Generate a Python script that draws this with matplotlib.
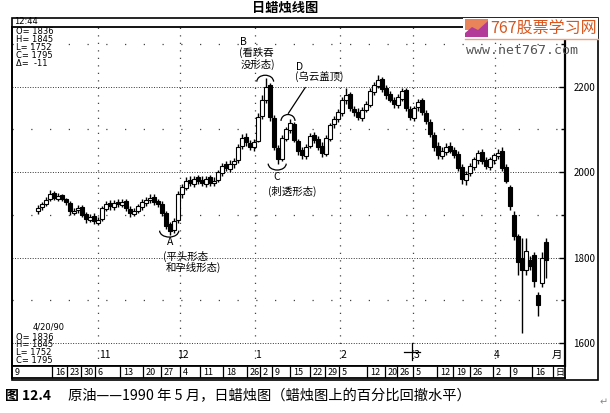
import matplotlib.pyplot as plt
import matplotlib.patches as mpatches
from matplotlib.lines import Line2D
import numpy as np

plt.rcParams['font.family'] = ['Noto Sans CJK SC', 'DejaVu Sans']
plt.rcParams['axes.unicode_minus'] = False

W, H = 610, 413

# ---- daily crude oil candles (Oct 1989 - Apr 1990) ----
opens = [1910, 1918, 1926, 1938, 1952, 1938, 1946, 1936, 1928, 1905,
         1912, 1918, 1902, 1888, 1898, 1882, 1890, 1914, 1928, 1918,
         1930, 1924, 1932, 1914, 1902, 1910, 1918, 1928, 1934, 1942,
         1932, 1926, 1904, 1878, 1864, 1888, 1948, 1964, 1982, 1972,
         1988, 1982, 1972, 1988, 1974, 1982, 1998, 2018, 2008, 2018,
         2028, 2062, 2082, 2068, 2058, 2074, 2132, 2170, 2204, 2128,
         2056, 2032, 2078, 2098, 2112, 2072, 2052, 2038, 2062, 2088,
         2078, 2062, 2042, 2078, 2112, 2124, 2138, 2168, 2182, 2148,
         2142, 2128, 2146, 2158, 2188, 2202, 2218, 2196, 2182, 2168,
         2158, 2172, 2192, 2148, 2128, 2152, 2168, 2138, 2118, 2088,
         2062, 2038, 2048, 2062, 2052, 2042, 2012, 1982, 1998, 2012,
         2028, 2048, 2028, 2012, 2028, 2038, 2050, 2012, 1965, 1900,
         1850, 1800, 1770, 1795, 1805, 1712, 1740, 1836]
highs = [1922, 1930, 1942, 1958, 1956, 1952, 1950, 1940, 1932, 1916,
         1922, 1924, 1906, 1902, 1904, 1894, 1920, 1932, 1934, 1934,
         1936, 1936, 1938, 1920, 1916, 1926, 1936, 1942, 1948, 1948,
         1938, 1932, 1910, 1884, 1892, 1956, 1972, 1988, 1990, 1992,
         1994, 1990, 1992, 1994, 1988, 2006, 2022, 2026, 2028, 2034,
         2066, 2090, 2092, 2076, 2078, 2138, 2180, 2220, 2210, 2135,
         2064, 2086, 2106, 2125, 2118, 2078, 2058, 2066, 2092, 2094,
         2084, 2070, 2086, 2116, 2132, 2148, 2176, 2196, 2188, 2156,
         2150, 2152, 2166, 2196, 2212, 2228, 2224, 2204, 2190, 2176,
         2182, 2198, 2198, 2156, 2156, 2172, 2174, 2146, 2124, 2094,
         2070, 2058, 2068, 2070, 2060, 2050, 2018, 2002, 2022, 2036,
         2052, 2054, 2036, 2036, 2046, 2054, 2058, 2018, 1970, 1910,
         1855, 1845, 1845, 1803, 1812, 1720, 1812, 1845]
lows = [1903, 1912, 1920, 1932, 1934, 1932, 1932, 1924, 1900, 1900,
        1904, 1894, 1882, 1884, 1878, 1876, 1886, 1908, 1912, 1912,
        1918, 1918, 1910, 1896, 1898, 1904, 1912, 1920, 1928, 1922,
        1918, 1898, 1868, 1852, 1858, 1882, 1940, 1958, 1968, 1966,
        1972, 1968, 1966, 1968, 1968, 1976, 1992, 2002, 2000, 2010,
        2022, 2054, 2062, 2052, 2050, 2070, 2125, 2162, 2120, 2052,
        2018, 2026, 2072, 2092, 2070, 2040, 2030, 2032, 2056, 2068,
        2052, 2036, 2038, 2072, 2104, 2118, 2132, 2160, 2144, 2132,
        2122, 2120, 2140, 2152, 2180, 2196, 2188, 2172, 2164, 2150,
        2150, 2166, 2144, 2122, 2120, 2144, 2134, 2112, 2082, 2050,
        2032, 2030, 2040, 2044, 2034, 2002, 1972, 1970, 1990, 2004,
        2020, 2018, 2008, 2006, 2020, 2030, 2002, 1975, 1912, 1842,
        1760, 1624, 1760, 1772, 1732, 1662, 1730, 1752]
closes = [1917, 1925, 1935, 1950, 1940, 1945, 1938, 1930, 1908, 1910,
          1915, 1900, 1890, 1895, 1885, 1888, 1915, 1925, 1920, 1928,
          1925, 1930, 1915, 1905, 1910, 1920, 1930, 1935, 1940, 1930,
          1925, 1905, 1875, 1862, 1885, 1950, 1965, 1980, 1975, 1985,
          1980, 1975, 1985, 1975, 1980, 2000, 2015, 2010, 2020, 2025,
          2060, 2080, 2070, 2060, 2070, 2130, 2170, 2200, 2130, 2060,
          2030, 2080, 2100, 2115, 2075, 2050, 2040, 2060, 2085, 2075,
          2060, 2045, 2080, 2110, 2125, 2140, 2170, 2180, 2150, 2140,
          2130, 2145, 2160, 2190, 2205, 2215, 2195, 2180, 2170, 2160,
          2175, 2190, 2150, 2130, 2150, 2165, 2140, 2120, 2090, 2060,
          2040, 2050, 2060, 2050, 2040, 2010, 1985, 1995, 2015, 2030,
          2045, 2025, 2015, 2030, 2040, 2045, 2010, 1980, 1920, 1850,
          1790, 1770, 1815, 1780, 1745, 1690, 1800, 1795]

price_ticks = [1600, 1800, 2000, 2200]
minor_levels = [1700, 1900, 2100, 2300]
month_labels = ['11', '12', '1', '2', '3', '4', '月']
week_labels = ['9', '16', '23', '30', '6', '13', '20', '27', '4', '11', '18',
               '26', '2', '9', '15', '22', '29', '5', '12', '20', '26', '5',
               '12', '19', '26', '2', '9', '16', '日']

# layout positions (trading-day index units)
month_pos = [16.75, 36.25, 55, 76.25, 94.75, 114.75, 129.75]
month_lines = [15, 35.5, 54.25, 75.5, 93.75, 114.25]
week_seps = [-6.5, 3.5, 7.25, 10.75, 14.25, 20.5, 26.25, 30.75, 35.5, 40.5,
             46.25, 52.25, 55.5, 58.5, 63, 68, 71.75, 75.25, 82.25, 86.75,
             89.75, 93.75, 99.75, 103.75, 108, 113.75, 118, 123.5, 128.75]

o = np.array(opens); h = np.array(highs); l = np.array(lows); c = np.array(closes)
idx = np.arange(len(c))
up = c >= o

fig = plt.figure(figsize=(W / 100, H / 100), dpi=100)
fig.patch.set_facecolor('white')


def fx(x):
    return x / W


def fy(y):
    return 1 - y / H


ax = fig.add_axes([fx(12), fy(366), fx(565) - fx(12), fy(27) - fy(366)])
ax.set_xlim(-6.5, 131.75)
ax.set_ylim(1546, 2340)

# grid
for p in price_ticks:
    ax.axhline(p, color='#333333', lw=0.7, ls=(0, (1, 1.6)), zorder=1)
for p in minor_levels:
    ax.axhline(p, color='#444444', lw=0.9, ls=(0, (1, 14)), zorder=1)
for m in month_lines:
    ax.axvline(m, color='#444444', lw=0.9, ls=(0, (1, 5)), zorder=1)

# candles
ax.vlines(idx, l, h, color='black', lw=1.0, zorder=3)
ax.bar(idx[up], c[up] - o[up], bottom=o[up], width=0.9,
       facecolor='white', edgecolor='black', lw=0.8, zorder=4)
ax.bar(idx[~up], o[~up] - c[~up], bottom=c[~up], width=0.9,
       facecolor='black', edgecolor='black', lw=0.8, zorder=4)

# axis styling
ax.yaxis.tick_right()
ax.set_yticks(price_ticks)
ax.set_yticks(minor_levels, minor=True)
ax.tick_params(axis='y', which='major', direction='in', length=4, width=1,
               pad=6, labelsize=7, colors='black')
ax.tick_params(axis='y', which='minor', direction='in', length=3, width=1)
ax.set_xticks([])
for s in ax.spines.values():
    s.set_linewidth(1.3)
ax.spines['right'].set_linewidth(1.6)

# month labels
for m, lab in zip(month_pos, month_labels):
    ax.text(m, 1572, lab, ha='center', va='center', fontsize=7.5, zorder=5)
ax.plot([91.5, 95.5], [1579, 1579], color='black', lw=0.9)
ax.plot([93.6, 93.6], [1560, 1600], color='black', lw=0.9)

# pattern annotations
ann = dict(fontsize=7.5, ha='left', va='center', zorder=6)
ax.text(50.6, 2306, 'B', **ann)
ax.text(50.3, 2280, '(看跌吞', **ann)
ax.text(50.6, 2253, '没形态)', **ann)
ax.add_patch(mpatches.Arc((56.8, 2212), 4.2, 30, theta1=0, theta2=180, lw=0.9))
ax.text(64.6, 2247, 'D', **ann)
ax.text(64.3, 2221, '(乌云盖顶)', **ann)
ax.plot([66.8, 62.6], [2198, 2138], color='black', lw=0.9)
ax.add_patch(mpatches.Arc((62.5, 2120), 3.5, 30, theta1=0, theta2=180, lw=0.9))
ax.add_patch(mpatches.Arc((59.8, 2020), 4.5, 30, theta1=180, theta2=360, lw=0.9))
ax.text(58.8, 1989, 'C', **ann)
ax.text(57.4, 1954, '(刺透形态)', **ann)
ax.add_patch(mpatches.Arc((32.8, 1863), 4.8, 30, theta1=180, theta2=360, lw=0.9))
ax.text(32.2, 1837, 'A', **ann)
ax.text(31.3, 1802, '(平头形态', **ann)
ax.text(32.0, 1776, '和孕线形态)', **ann)

# date row
dax = fig.add_axes([fx(12), fy(378), fx(565) - fx(12), fy(366) - fy(378)])
dax.set_xlim(-6.5, 131.75)
dax.set_ylim(0, 1)
dax.set_xticks([]); dax.set_yticks([])
for s in dax.spines.values():
    s.set_linewidth(1.3)
dax.vlines(week_seps[1:], 0, 1, color='black', lw=0.9)
for sx, lab in zip(week_seps, week_labels):
    dax.text(sx + 0.7, 0.45, lab, ha='left', va='center', fontsize=6.5)

# outer frame
fig.add_artist(mpatches.Rectangle((fx(12), fy(380)), fx(598) - fx(12),
                                  fy(18) - fy(380), transform=fig.transFigure,
                                  fill=False, lw=1.2, ec='black'))

# title
fig.text(fx(285), fy(8), '日蜡烛线图', ha='center', va='center',
         fontsize=9.5, fontweight='bold')

# readouts
fig.text(fx(14), fy(22), '12:44', fontsize=6, va='center', family='DejaVu Sans')
top_info = ['O= 1836', 'H= 1845', 'L= 1752', 'C= 1795', 'Δ=  -11']
for k, t in enumerate(top_info):
    fig.text(fx(16), fy(32 + 7.8 * k), t, fontsize=6, va='center',
             family='DejaVu Sans')
fig.text(fx(33), fy(327), '4/20/90', fontsize=6, va='center', family='DejaVu Sans')
for k, t in enumerate(top_info[:4]):
    fig.text(fx(16), fy(337 + 7.7 * k), t, fontsize=6, va='center',
             family='DejaVu Sans')

# watermark
fig.add_artist(mpatches.Rectangle((fx(463), fy(40)), fx(598) - fx(463),
                                  fy(18) - fy(40), transform=fig.transFigure,
                                  fc='white', ec='none', zorder=5))
fig.add_artist(mpatches.Rectangle((fx(465), fy(30)), fx(488) - fx(465),
                                  fy(19) - fy(30), transform=fig.transFigure,
                                  fc='#E9835A', ec='none', zorder=6))
fig.add_artist(mpatches.Polygon([(fx(465), fy(37)), (fx(465), fy(33)),
                                 (fx(472), fy(27)), (fx(478), fy(30)),
                                 (fx(488), fy(21)), (fx(488), fy(37))],
                                transform=fig.transFigure, fc='#B43A9A',
                                ec='none', zorder=7))
fig.text(fx(490), fy(28), '767股票学习网', fontsize=11.5, color='#D8561E',
         va='center', zorder=8)
fig.add_artist(Line2D([fx(465), fx(598)], [fy(38.5), fy(38.5)],
                      transform=fig.transFigure, color='#F0A080', lw=1, zorder=8))
fig.text(fx(466), fy(50), 'www.net767.com', fontsize=9.5, color='#555555',
         va='center', family='DejaVu Sans Mono')

# caption
fig.text(fx(5), fy(396), '图 12.4', fontsize=10, fontweight='bold', va='center')
fig.text(fx(68), fy(396), '原油——1990 年 5 月，日蜡烛图（蜡烛图上的百分比回撤水平）',
         fontsize=10.3, va='center')
fig.text(fx(600), fy(402), '↵', fontsize=7, color='#888888', va='center',
         family='DejaVu Sans')

fig.savefig('out.png', dpi=100, facecolor='white')
